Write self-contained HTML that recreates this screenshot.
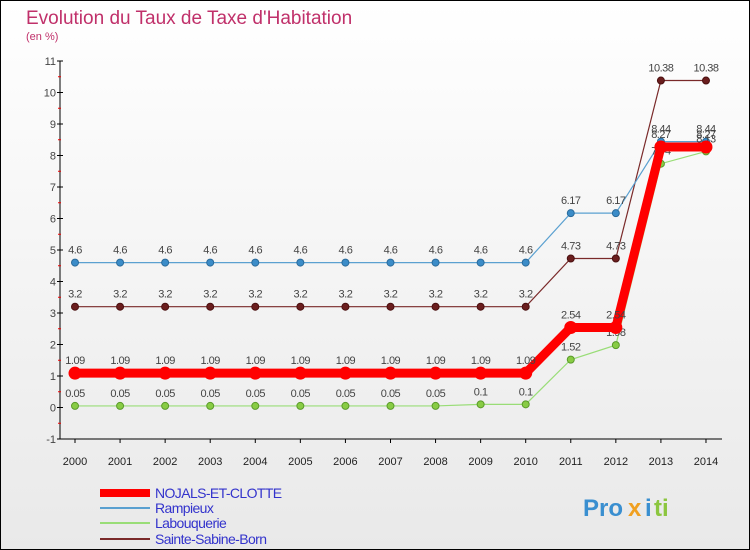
<!DOCTYPE html>
<html><head><meta charset="utf-8"><style>
body{margin:0;width:750px;height:550px;overflow:hidden;font-family:"Liberation Sans",sans-serif}
svg{display:block}
</style></head><body>
<svg width="750" height="550" xmlns="http://www.w3.org/2000/svg">
<defs><linearGradient id="bg" x1="0" y1="0" x2="0" y2="1"><stop offset="0" stop-color="#ffffff"/><stop offset="1" stop-color="#e9e9e9"/></linearGradient></defs>
<rect x="0.5" y="0.5" width="749" height="549" fill="url(#bg)" stroke="#000"/>
<text x="26" y="24" font-size="19" fill="#c0306a">Evolution du Taux de Taxe d'Habitation</text>
<text x="26" y="40" font-size="11" fill="#c0306a">(en %)</text>
<g id="axes"></g>
<g id="series"></g>
<g id="legend"></g>
<g font-size="24" font-weight="bold">
<text x="583" y="516" fill="#3a8fd0">Pro</text><text x="628" y="516" fill="#f0a020">x</text><text x="645" y="516" fill="#3a8fd0">i</text><text x="654" y="516" fill="#8cc63f">ti</text>
</g>
</svg>
<script>
const years=[2000,2001,2002,2003,2004,2005,2006,2007,2008,2009,2010,2011,2012,2013,2014];
const yTicks=[-1,0,1,2,3,4,5,6,7,8,9,10,11];
const nojals=[1.09,1.09,1.09,1.09,1.09,1.09,1.09,1.09,1.09,1.09,1.09,2.54,2.54,8.27,8.27];
const rampieux=[4.6,4.6,4.6,4.6,4.6,4.6,4.6,4.6,4.6,4.6,4.6,6.17,6.17,8.44,8.44];
const labouquerie=[0.05,0.05,0.05,0.05,0.05,0.05,0.05,0.05,0.05,0.1,0.1,1.52,1.98,7.74,8.13];
const sainte=[3.2,3.2,3.2,3.2,3.2,3.2,3.2,3.2,3.2,3.2,3.2,4.73,4.73,10.38,10.38];
const seriesNames=["NOJALS-ET-CLOTTE","Rampieux","Labouquerie","Sainte-Sabine-Born"];
const NS="http://www.w3.org/2000/svg";
const xS=i=>75+i*45.07;
const yS=v=>407.5-v*31.5;
function mk(tag,attrs,parent){const e=document.createElementNS(NS,tag);for(const k in attrs)e.setAttribute(k,attrs[k]);parent.appendChild(e);return e;}
const ax=document.getElementById('axes');
let yl=mk('line',{x1:60,y1:yS(11),x2:60,y2:yS(-1),stroke:'#000'},ax);


let xl=mk('line',{x1:60,y1:yS(-1),x2:722,y2:yS(-1),stroke:'#000'},ax);


yTicks.forEach(v=>{
 mk('line',{x1:57,y1:yS(v),x2:63,y2:yS(v),stroke:'#000'},ax);
 if(v<11) mk('line',{x1:58,y1:yS(v+0.5),x2:61,y2:yS(v+0.5),stroke:'#e00'},ax);
 const t=mk('text',{x:56,y:yS(v)+4,'font-size':11,'text-anchor':'end',fill:'#444'},ax);
 t.textContent=v;
 
 
});
years.forEach((yr,i)=>{
 mk('line',{x1:xS(i),y1:yS(-1),x2:xS(i),y2:yS(-1)+4,stroke:'#000'},ax);
 const t=mk('text',{x:xS(i),y:yS(-1)+26,'font-size':11,'text-anchor':'middle',fill:'#222'},ax);
 t.textContent=yr;
 
 
});
const sg=document.getElementById('series');
function draw(vals,color,width,dot,dotStroke,r,name){
 const g=mk('g',{},sg);
 
 
 mk('polyline',{points:vals.map((v,i)=>xS(i)+','+yS(v)).join(' '),fill:'none',stroke:color,'stroke-width':width,'stroke-linejoin':'miter'},g);
 vals.forEach((v,i)=>{
  const c=mk('circle',{cx:xS(i),cy:yS(v),r:r,fill:dot,stroke:dotStroke,'stroke-width':1},g);
  
  
  const t=mk('text',{x:xS(i),y:yS(v)-9,'font-size':11,'text-anchor':'middle',fill:'#444','letter-spacing':'-0.5'},g);
  t.textContent=String(v);
 });
}
draw(sainte,'#7a2a2a',1.2,'#6b1e1e','#4a1010',3.5,'series-sainte-sabine-born');
draw(rampieux,'#5aa0d0',1.2,'#3b8cc8','#2a6a9a',3.5,'series-rampieux');
draw(labouquerie,'#99dd77',1.2,'#88cc44','#5a9a2a',3.5,'series-labouquerie');
draw(nojals,'#ff0000',9,'#ff0000','#ff0000',6,'series-nojals-et-clotte');
const lg=document.getElementById('legend');
const lc=['#ff0000','#5aa0d0','#99dd77','#7a2a2a'],lw=[8,2,2,2],ly=[493,508,523,539];
seriesNames.forEach((n,i)=>{
 const g=mk('g',{},lg);
 
 
 mk('line',{x1:100,y1:ly[i],x2:150,y2:ly[i],stroke:lc[i],'stroke-width':lw[i]},g);
 const t=mk('text',{x:155,y:ly[i]+5,'font-size':14,fill:'#3333cc','letter-spacing':'-0.6'},g);
 t.textContent=n;
});
</script>
</body></html>
